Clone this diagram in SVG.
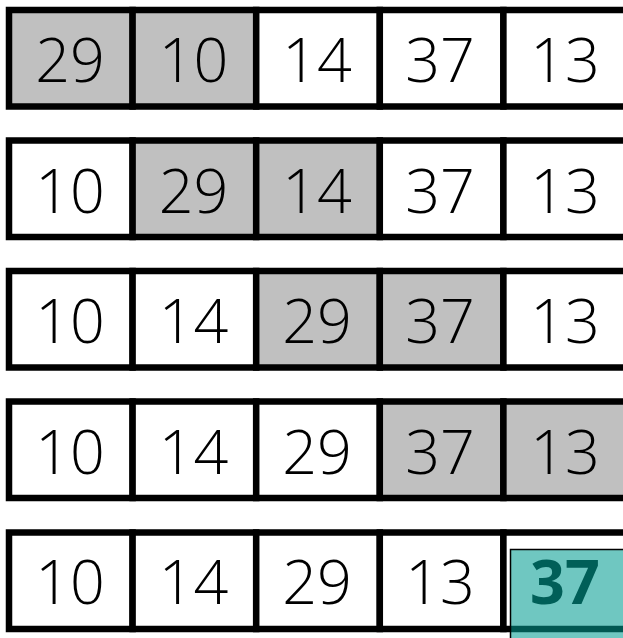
<svg xmlns="http://www.w3.org/2000/svg" width="623" height="638" viewBox="0 0 623 638">
<style>
.c{stroke:#000;stroke-width:6.5}
.w{fill:#fff}
.g{fill:#c0c0c0}
.t{font-family:"Open Sans","Noto Sans",sans-serif;font-size:61px;font-weight:300;text-anchor:middle;fill:#000}
.h{fill:#009c91;fill-opacity:0.565;stroke:#000;stroke-width:1.5}
.ht{font-family:"Open Sans","Noto Sans",sans-serif;font-size:61px;font-weight:bold;text-anchor:middle;fill:#005f58}
</style>
<rect width="623" height="638" fill="#fff"/>
<g id="row1">
<g id="r1c1"><rect class="c g" x="9" y="10" width="123.6" height="96.5"/><text class="t" x="70" y="82">29</text></g>
<g id="r1c2"><rect class="c g" x="132.6" y="10" width="123.6" height="96.5"/><text class="t" x="193.5" y="82">10</text></g>
<g id="r1c3"><rect class="c w" x="256.2" y="10" width="123.6" height="96.5"/><text class="t" x="317" y="82">14</text></g>
<g id="r1c4"><rect class="c w" x="379.8" y="10" width="123.6" height="96.5"/><text class="t" x="440" y="82">37</text></g>
<g id="r1c5"><rect class="c w" x="503.4" y="10" width="123.6" height="96.5"/><text class="t" x="565" y="82">13</text></g>
</g>
<g id="row2">
<g id="r2c1"><rect class="c w" x="9" y="140.5" width="123.6" height="96.5"/><text class="t" x="70" y="212.5">10</text></g>
<g id="r2c2"><rect class="c g" x="132.6" y="140.5" width="123.6" height="96.5"/><text class="t" x="193.5" y="212.5">29</text></g>
<g id="r2c3"><rect class="c g" x="256.2" y="140.5" width="123.6" height="96.5"/><text class="t" x="317" y="212.5">14</text></g>
<g id="r2c4"><rect class="c w" x="379.8" y="140.5" width="123.6" height="96.5"/><text class="t" x="440" y="212.5">37</text></g>
<g id="r2c5"><rect class="c w" x="503.4" y="140.5" width="123.6" height="96.5"/><text class="t" x="565" y="212.5">13</text></g>
</g>
<g id="row3">
<g id="r3c1"><rect class="c w" x="9" y="271" width="123.6" height="96.5"/><text class="t" x="70" y="343">10</text></g>
<g id="r3c2"><rect class="c w" x="132.6" y="271" width="123.6" height="96.5"/><text class="t" x="193.5" y="343">14</text></g>
<g id="r3c3"><rect class="c g" x="256.2" y="271" width="123.6" height="96.5"/><text class="t" x="317" y="343">29</text></g>
<g id="r3c4"><rect class="c g" x="379.8" y="271" width="123.6" height="96.5"/><text class="t" x="440" y="343">37</text></g>
<g id="r3c5"><rect class="c w" x="503.4" y="271" width="123.6" height="96.5"/><text class="t" x="565" y="343">13</text></g>
</g>
<g id="row4">
<g id="r4c1"><rect class="c w" x="9" y="401.5" width="123.6" height="96.5"/><text class="t" x="70" y="473.5">10</text></g>
<g id="r4c2"><rect class="c w" x="132.6" y="401.5" width="123.6" height="96.5"/><text class="t" x="193.5" y="473.5">14</text></g>
<g id="r4c3"><rect class="c w" x="256.2" y="401.5" width="123.6" height="96.5"/><text class="t" x="317" y="473.5">29</text></g>
<g id="r4c4"><rect class="c g" x="379.8" y="401.5" width="123.6" height="96.5"/><text class="t" x="440" y="473.5">37</text></g>
<g id="r4c5"><rect class="c g" x="503.4" y="401.5" width="123.6" height="96.5"/><text class="t" x="565" y="473.5">13</text></g>
</g>
<g id="row5">
<g id="r5c1"><rect class="c w" x="9" y="532.5" width="123.6" height="96.5"/><text class="t" x="70" y="604">10</text></g>
<g id="r5c2"><rect class="c w" x="132.6" y="532.5" width="123.6" height="96.5"/><text class="t" x="193.5" y="604">14</text></g>
<g id="r5c3"><rect class="c w" x="256.2" y="532.5" width="123.6" height="96.5"/><text class="t" x="317" y="604">29</text></g>
<g id="r5c4"><rect class="c w" x="379.8" y="532.5" width="123.6" height="96.5"/><text class="t" x="440" y="604">13</text></g>
<g id="r5c5"><rect class="c w" x="503.4" y="532.5" width="123.6" height="96.5"/></g>
</g>
<g id="highlight"><rect class="h" x="510.5" y="549.5" width="120" height="100"/><text class="ht" x="565" y="604">37</text></g>
<g id="connectors"/>
</svg>
